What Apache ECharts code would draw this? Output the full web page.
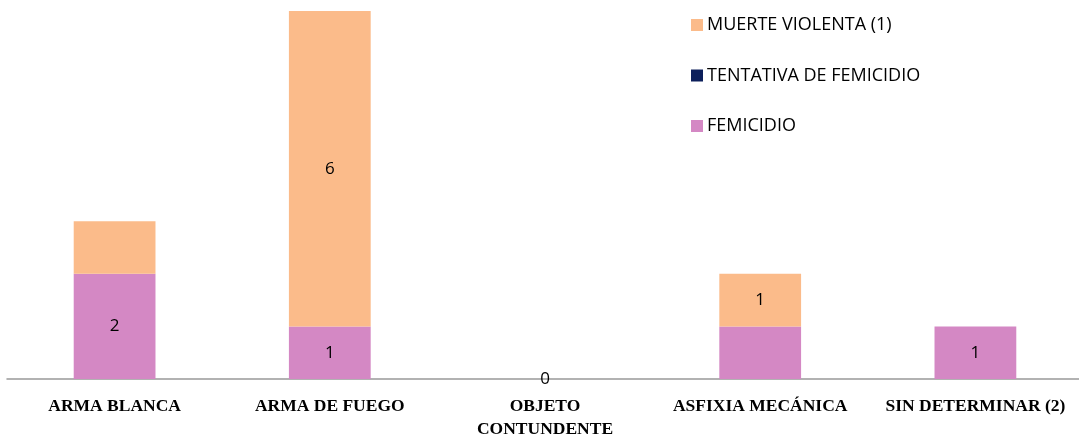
<!DOCTYPE html>
<html>
<head>
<meta charset="utf-8">
<script src="https://cdn.jsdelivr.net/npm/echarts@6/dist/echarts.min.js"></script>
<style>html,body{margin:0;padding:0;background:#fff;}#c{width:1079px;height:439px;}</style>
</head>
<body>
<div id="c"></div>
<script>
const categories = ['ARMA BLANCA', 'ARMA DE FUEGO', 'OBJETO\nCONTUNDENTE', 'ASFIXIA MECÁNICA', 'SIN DETERMINAR (2)'];
const femicidio = [2, 1, 0, 1, 1];
const tentativa = [0, 0, 0, 0, 0];
const muerteViolenta = [1, 6, 0, 1, 0];
const femicidioLabelShown = [true, true, true, false, true];
const tentativaLabelShown = [false, false, false, false, false];
const muerteLabelShown = [false, true, false, true, false];

function items(vals, shown) {
  return vals.map((v, i) => ({ value: v, label: { show: shown[i] } }));
}

const labelStyle = { position: 'inside', color: '#000', fontSize: 17, fontFamily: 'Open Sans' };

const chart = echarts.init(document.getElementById('c'), null, { renderer: 'canvas' });
chart.setOption({
  animation: false,
  backgroundColor: '#fff',
  grid: { left: 7, right: -4, top: 11, bottom: 60, containLabel: false, outerBoundsMode: 'none' },
  legend: {
    orient: 'vertical',
    left: 691,
    top: 16,
    padding: 0,
    itemWidth: 12,
    itemHeight: 12,
    itemGap: 32.5,
    icon: 'rect',
    data: ['MUERTE VIOLENTA (1)', 'TENTATIVA DE FEMICIDIO', 'FEMICIDIO'],
    textStyle: { fontFamily: 'Open Sans', fontSize: 18, color: '#000', padding: [0, 0, 0, -1] }
  },
  xAxis: {
    type: 'category',
    data: categories,
    axisLine: { lineStyle: { color: '#999', width: 1.5 } },
    axisTick: { show: false },
    axisLabel: {
      interval: 0,
      margin: 16,
      color: '#000',
      fontFamily: 'Liberation Serif',
      fontWeight: 'bold',
      fontSize: 17.5,
      lineHeight: 23
    }
  },
  yAxis: {
    type: 'value', min: 0, max: 7,
    show: false,
    splitLine: { show: false }
  },
  series: [
    { name: 'FEMICIDIO', type: 'bar', stack: 's', barWidth: '38%', data: items(femicidio, femicidioLabelShown),
      itemStyle: { color: '#D488C4' }, label: labelStyle },
    { name: 'TENTATIVA DE FEMICIDIO', type: 'bar', stack: 's', data: items(tentativa, tentativaLabelShown),
      itemStyle: { color: '#0C1F5B' }, label: labelStyle },
    { name: 'MUERTE VIOLENTA (1)', type: 'bar', stack: 's', data: items(muerteViolenta, muerteLabelShown),
      itemStyle: { color: '#FBBB8A' }, label: labelStyle }
  ]
});
</script>
</body>
</html>
